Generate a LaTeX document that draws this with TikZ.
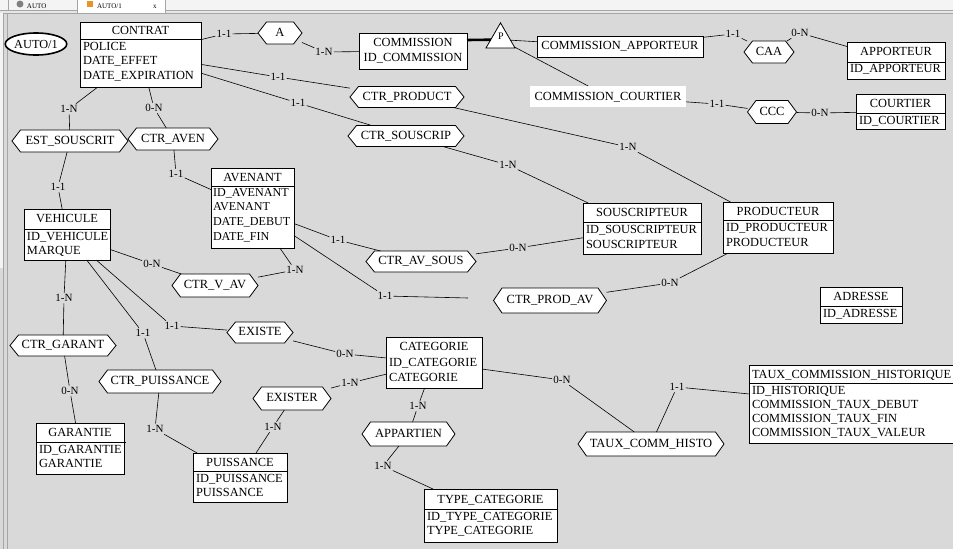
\documentclass[tikz,border=0pt]{standalone}
\usepackage{fontspec}
\setmainfont{Liberation Serif}
\usetikzlibrary{shapes.geometric,calc}
\definecolor{canvas}{RGB}{217,217,217}
\definecolor{tabbar}{RGB}{244,244,244}
\definecolor{tabstrip}{RGB}{230,230,230}
\definecolor{frameline}{RGB}{165,165,165}
\definecolor{iconorange}{RGB}{230,150,40}
\tikzset{
 every node/.style={inner sep=0pt, outer sep=0pt},
 entbox/.style={rectangle, draw=black, line width=0.9pt, fill=white},
 entsep/.style={draw=black, line width=0.9pt},
 enttext/.style={font=\fontsize{12.4}{14}\selectfont, text height=8.5pt, text depth=2pt},
 head/.style={enttext, anchor=center},
 attr/.style={enttext, anchor=west},
 narrowattr/.style={attr, font=\fontsize{12.1}{14}\selectfont},
 relshape/.style={rectangle},
 relhex/.style={draw=black, line width=0.8pt, fill=white},
 reltext/.style={font=\fontsize{12.5}{14}\selectfont, text height=8.5pt, text depth=2pt},
 card/.style={font=\fontsize{11}{12}\selectfont, inner sep=1.3pt, text height=7.5pt, text depth=0.5pt},
 tabtext/.style={font=\fontsize{7}{8}\selectfont, anchor=base west},
 link/.style={draw=black, line width=0.6pt},
 heavy/.style={draw=black, line width=2.6pt},
}
\newcommand\entbox[5]{\node[entbox, minimum width={#4-#2}, minimum height={#5-#3}] (#1) at ({(#2+#4)/2},{(#3+#5)/2}) {};}
\newcommand\attrs[5]{\foreach \t [count=\i] in {#5} {\node[attr] (#1-a\i) at (#2,{#3+(\i-1)*#4}) {\t};}}
\newcommand\rel[6]{%
 \node[relshape, minimum width=#4, minimum height=#5] (#1) at (#2,#3) {};
 \filldraw[relhex] (#1.west) -- ([xshift=8.5pt]#1.north west) -- ([xshift=-8.5pt]#1.north east) -- (#1.east) -- ([xshift=-8.5pt]#1.south east) -- ([xshift=8.5pt]#1.south west) -- cycle;
 \node[reltext] (#1-t) at (#1) {#6};}
\begin{document}
\begin{tikzpicture}[x=1pt,y=-1pt]
\useasboundingbox (0,0) rectangle (953,549);
\fill[canvas] (0,0) rectangle (953,549);
% window frame
\fill[tabbar] (0,0) rectangle (953,10);
\fill[tabstrip] (0,10) rectangle (953,13);
\draw[frameline, line width=0.8pt] (0,10.5) -- (953,10.5);
\draw[frameline, line width=0.8pt] (0,13.5) -- (953,13.5);
\fill[tabbar] (0,13) rectangle (4,268);
\draw[frameline] (3.5,13) -- (3.5,549);
\draw[frameline, line width=0.8pt] (7.5,13) -- (7.5,549);
\fill[white] (78,0) rectangle (165,13);
\draw[frameline] (8,0) -- (8,10.5);
\draw[frameline] (77.5,0) -- (77.5,13);
\draw[frameline] (165.5,0) -- (165.5,13);
\fill[gray] (20,4) circle (3.5);
\fill[iconorange] (87,1) rectangle (93,7);
\node[tabtext] (tab1) at (27,8.5) {AUTO};
\node[tabtext] (tab2) at (97,8.5) {AUTO/1};
\node[tabtext] (tabx) at (153,8.5) {x};
% model name
\node[ellipse, draw=black, line width=1.6pt, fill=white, minimum width=54, minimum height=22, font=\fontsize{12.3}{14}\selectfont] (auto) at (36,44) {AUTO/1};
% ---------------- entities
\entbox{contrat}{80}{22}{201}{87}
\draw[entsep] (80,39) -- (201,39);
\node[head] (contrat-h) at (140.5,31) {CONTRAT};
\attrs{contrat}{83}{47}{14.5}{POLICE, DATE\_EFFET, DATE\_EXPIRATION}
\entbox{commission}{359}{33}{467}{69}
\node[head] (commission-h) at (413,43) {COMMISSION};
\node[head] (commission-a1) at (413,58) {ID\_COMMISSION};
\entbox{comapp}{537}{36}{703}{57}
\node[head] (comapp-h) at (620,46.5) {COMMISSION\_APPORTEUR};
\node[rectangle, fill=white, minimum width=156, minimum height=21] (comcourt) at (608,96.5) {};
\node[head] (comcourt-h) at (608,97) {COMMISSION\_COURTIER};
\entbox{apporteur}{847}{42}{945}{79}
\draw[entsep] (847,62) -- (945,62);
\node[head] (apporteur-h) at (896,52) {APPORTEUR};
\attrs{apporteur}{850}{69.5}{14}{ID\_APPORTEUR}
\entbox{courtier}{856}{94}{945}{129}
\draw[entsep] (856,113) -- (945,113);
\node[head] (courtier-h) at (900.5,104) {COURTIER};
\attrs{courtier}{859}{121}{14}{ID\_COURTIER}
\entbox{souscripteur}{583}{203}{701}{254}
\draw[entsep] (583,222) -- (701,222);
\node[head] (souscripteur-h) at (642,213) {SOUSCRIPTEUR};
\attrs{souscripteur}{586}{230}{15}{ID\_SOUSCRIPTEUR, SOUSCRIPTEUR}
\entbox{producteur}{723}{202}{833}{253}
\draw[entsep] (723,220) -- (833,220);
\node[head] (producteur-h) at (778,212) {PRODUCTEUR};
\attrs{producteur}{726}{228}{15}{ID\_PRODUCTEUR, PRODUCTEUR}
\entbox{adresse}{820}{287}{902}{323}
\draw[entsep] (820,306) -- (902,306);
\node[head] (adresse-h) at (861,297) {ADRESSE};
\attrs{adresse}{823}{314}{14}{ID\_ADRESSE}
\entbox{tauxhist}{749}{365}{958}{443}
\draw[entsep] (749,383) -- (958,383);
\node[attr] (tauxhist-h) at (752,375) {TAUX\_COMMISSION\_HISTORIQUE};
\attrs{tauxhist}{752}{391}{14}{ID\_HISTORIQUE, COMMISSION\_TAUX\_DEBUT, COMMISSION\_TAUX\_FIN, COMMISSION\_TAUX\_VALEUR}
\entbox{avenant}{211}{168}{294}{248}
\draw[entsep] (211,186) -- (294,186);
\node[head] (avenant-h) at (252.5,178) {AVENANT};
\foreach \t [count=\i] in {ID\_AVENANT, AVENANT, DATE\_DEBUT, DATE\_FIN} {\node[narrowattr] (avenant-a\i) at (213,{193+(\i-1)*14.7}) {\t};}
\entbox{vehicule}{24}{209}{110}{260}
\draw[entsep] (24,229) -- (110,229);
\node[head] (vehicule-h) at (67,219) {VEHICULE};
\attrs{vehicule}{27}{237}{14}{ID\_VEHICULE, MARQUE}
\entbox{garantie}{36}{423}{124}{474}
\draw[entsep] (36,442) -- (126,442);
\node[head] (garantie-h) at (80,433) {GARANTIE};
\attrs{garantie}{39}{450}{14}{ID\_GARANTIE, GARANTIE}
\entbox{puissance}{193}{453}{287}{502}
\draw[entsep] (193,471) -- (287,471);
\node[head] (puissance-h) at (240,463) {PUISSANCE};
\attrs{puissance}{196}{479}{14}{ID\_PUISSANCE, PUISSANCE}
\entbox{categorie}{386}{337}{482}{388}
\node[head] (categorie-h) at (434,347) {CATEGORIE};
\attrs{categorie}{389}{363}{15}{ID\_CATEGORIE, CATEGORIE}
\entbox{typecat}{424}{489}{557}{542}
\draw[entsep] (424,509) -- (557,509);
\node[head] (typecat-h) at (490.5,500) {TYPE\_CATEGORIE};
\attrs{typecat}{427}{517}{14}{ID\_TYPE\_CATEGORIE, TYPE\_CATEGORIE}
% ---------------- relations
\rel{ra}{280}{33}{44}{22}{A}
\rel{caa}{769}{52}{50}{22}{CAA}
\rel{ccc}{772}{112}{49}{23}{CCC}
\rel{ctrproduct}{407}{97}{114}{21}{CTR\_PRODUCT}
\rel{ctrsouscrip}{406}{136}{116}{21}{CTR\_SOUSCRIP}
\rel{estsouscrit}{70}{141}{116}{22}{EST\_SOUSCRIT}
\rel{ctraven}{173}{139}{90}{22}{CTR\_AVEN}
\rel{ctravsous}{421}{261.5}{110}{21}{CTR\_AV\_SOUS}
\rel{ctrprodav}{550}{300.5}{113}{25}{CTR\_PROD\_AV}
\rel{ctrvav}{215}{285.5}{86}{23}{CTR\_V\_AV}
\rel{existe}{260}{332.5}{66}{21}{EXISTE}
\rel{ctrgarant}{63}{345.5}{106}{21}{CTR\_GARANT}
\rel{ctrpuiss}{160}{381.5}{122}{23}{CTR\_PUISSANCE}
\rel{exister}{292}{398.5}{78}{23}{EXISTER}
\rel{appartien}{408.5}{434}{93}{24}{APPARTIEN}
\rel{tauxcomm}{651}{444}{146}{24}{TAUX\_COMM\_HISTO}
% inheritance triangle
\node[regular polygon, regular polygon sides=3, draw=black, line width=0.8pt, fill=white, minimum size=33.5] (P) at (500.5,39.6) {};
\node[font=\fontsize{10}{11}\selectfont] (P-t) at (501,36) {P};
% ---------------- cardinalities
\node[card] (c1) at (224,34) {1-1};
\node[card] (c2) at (324,52) {1-N};
\node[card] (c3) at (733,34) {1-1};
\node[card] (c4) at (800,33) {0-N};
\node[card] (c5) at (717,104) {1-1};
\node[card] (c6) at (820,113) {0-N};
\node[card] (c7) at (278,77) {1-1};
\node[card] (c8) at (628,147) {1-N};
\node[card] (c9) at (298,103) {1-1};
\node[card] (c10) at (508,165) {1-N};
\node[card] (c11) at (69,109) {1-N};
\node[card] (c12) at (58,187) {1-1};
\node[card] (c13) at (154,108) {0-N};
\node[card] (c14) at (176,174) {1-1};
\node[card] (c15) at (338,240) {1-1};
\node[card] (c16) at (518,248) {0-N};
\node[card] (c17) at (385,296) {1-1};
\node[card] (c18) at (670,283) {0-N};
\node[card] (c19) at (152,264) {0-N};
\node[card] (c20) at (295,270) {1-N};
\node[card] (c21) at (64,298) {1-N};
\node[card] (c22) at (70,391) {0-N};
\node[card] (c23) at (143,333) {1-1};
\node[card] (c24) at (155,429) {1-N};
\node[card] (c25) at (273,427) {1-N};
\node[card] (c26) at (350,383) {1-N};
\node[card] (c27) at (345,354) {0-N};
\node[card] (c28) at (172,326) {1-1};
\node[card] (c29) at (418,406) {1-N};
\node[card] (c30) at (383,466) {1-N};
\node[card] (c31) at (562,380) {0-N};
\node[card] (c32) at (677,387) {1-1};
\coordinate (avpend) at (468,298);
% ---------------- connectors
\draw[link] (contrat) -- (c1) -- (ra);
\draw[link] (ra) -- (c2) -- (commission);
\draw[heavy] ([yshift=11pt]commission.east) -- (P);
\draw[link] (P) -- (comapp);
\draw[link] (P) -- (comcourt);
\draw[link] (comapp) -- (c3) -- (caa);
\draw[link] (caa) -- (c4) -- (apporteur);
\draw[link] (comcourt) -- (c5) -- (ccc);
\draw[link] (ccc) -- (c6) -- (courtier);
\draw[link] (contrat) -- (c7) -- (ctrproduct);
\draw[link] (ctrproduct) -- (c8) -- (producteur);
\draw[link] (contrat) -- (c9) -- (ctrsouscrip);
\draw[link] (ctrsouscrip) -- (c10) -- (souscripteur);
\draw[link] (contrat) -- (c11) -- (estsouscrit);
\draw[link] (estsouscrit) -- (c12) -- (vehicule);
\draw[link] (contrat) -- (c13) -- (ctraven);
\draw[link] (ctraven) -- (c14) -- (avenant);
\draw[link] (avenant) -- (c15) -- (ctravsous);
\draw[link] (ctravsous) -- (c16) -- (souscripteur);
\draw[link] (avenant) -- (c17) -- (avpend);
\draw[link] (ctrprodav) -- (c18) -- (producteur);
\draw[link] (vehicule) -- (c19) -- (ctrvav);
\draw[link] (avenant) -- (c20) -- (ctrvav);
\draw[link] (vehicule) -- (c21) -- (ctrgarant);
\draw[link] (ctrgarant) -- (c22) -- (garantie);
\draw[link] (vehicule) -- (c23) -- (ctrpuiss);
\draw[link] (ctrpuiss) -- (c24) -- (puissance);
\draw[link] (exister) -- (c25) -- (puissance);
\draw[link] (exister) -- (c26) -- (categorie);
\draw[link] (existe) -- (c27) -- (categorie);
\draw[link] (vehicule) -- (c28) -- (existe);
\draw[link] (categorie) -- (c29) -- (appartien);
\draw[link] (appartien) -- (c30) -- (typecat);
\draw[link] (categorie) -- (c31) -- (tauxcomm);
\draw[link] (tauxcomm) -- (c32) -- (tauxhist);
\end{tikzpicture}
\end{document}
